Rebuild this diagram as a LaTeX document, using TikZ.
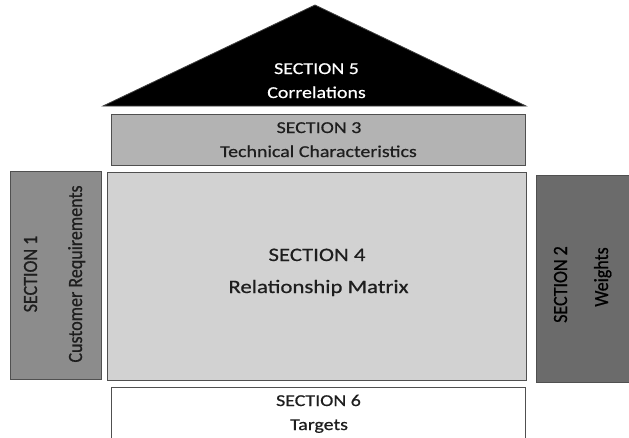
\documentclass[tikz,border=0pt]{standalone}
\usepackage{fontspec}
\setmainfont{Carlito}
\newfontfamily\wideface{Carlito}[FakeStretch=1.2, FakeBold=0.6]
\newfontfamily\sideface{Carlito}[FakeBold=0.7]
\newcommand{\tallen}[1]{\scalebox{1}[1.12]{#1}}
\definecolor{sone}{HTML}{8C8C8C}
\definecolor{stwo}{HTML}{6B6B6B}
\definecolor{sthree}{HTML}{B3B3B3}
\definecolor{sfour}{HTML}{D2D2D2}
\definecolor{edge}{HTML}{505050}
\definecolor{ink}{HTML}{1E1E1E}
\begin{document}
\begin{tikzpicture}[x=1pt,y=-1pt,
  box/.style={draw=edge, line width=1.3pt, inner sep=0pt, anchor=north west},
  hl/.style={anchor=base, inner sep=0pt, text=ink, font=\wideface\fontsize{16.6}{20}\selectfont},
  hlbig/.style={hl, font=\wideface\fontsize{19}{23}\selectfont},
  vl/.style={anchor=base, inner sep=0pt, rotate=90, text=ink, font=\sideface\fontsize{18}{22}\selectfont}]
\useasboundingbox (0,0) rectangle (629,437);
\clip (0,0) rectangle (629,437);
\fill[white] (0,0) rectangle (629,437);
% Section 5 roof
\draw[fill=black, draw=black!75, line width=0.8pt] (103,106) -- (315,5) -- (526,106) -- cycle;
\node[hl, text=white] (s5a) at (316.5,74) {SECTION 5};
\node[hl, text=white] (s5b) at (316.5,98) {Correlations};
% Section 3
\node[box, fill=sthree, minimum width=414pt, minimum height=51pt] (s3) at (111,114) {};
\node[hl] (s3a) at (319,133) {SECTION 3};
\node[hl] (s3b) at (318.5,157) {Technical Characteristics};
% Section 4
\node[box, fill=sfour, minimum width=419pt, minimum height=208pt] (s4) at (107,172) {};
\node[hlbig] (s4a) at (317,261) {SECTION 4};
\node[hlbig] (s4b) at (318.5,293) {Relationship Matrix};
% Section 1
\node[box, fill=sone, minimum width=91pt, minimum height=208pt] (s1) at (10,171) {};
\node[vl] (s1a) at (37,274) {\tallen{SECTION 1}};
\node[vl] (s1b) at (82,274) {\tallen{Customer Requirements}};
% Section 2
\node[box, fill=stwo, minimum width=100pt, minimum height=207pt] (s2) at (536,175) {};
\node[vl, text=black] (s2a) at (567,284.5) {\tallen{SECTION 2}};
\node[vl, text=black] (s2b) at (608,277) {\tallen{Weights}};
% Section 6
\node[box, fill=white, minimum width=414pt, minimum height=70pt] (s6) at (111,387) {};
\node[hl] (s6a) at (318.5,406) {SECTION 6};
\node[hl] (s6b) at (319,430) {Targets};
\end{tikzpicture}
\end{document}
